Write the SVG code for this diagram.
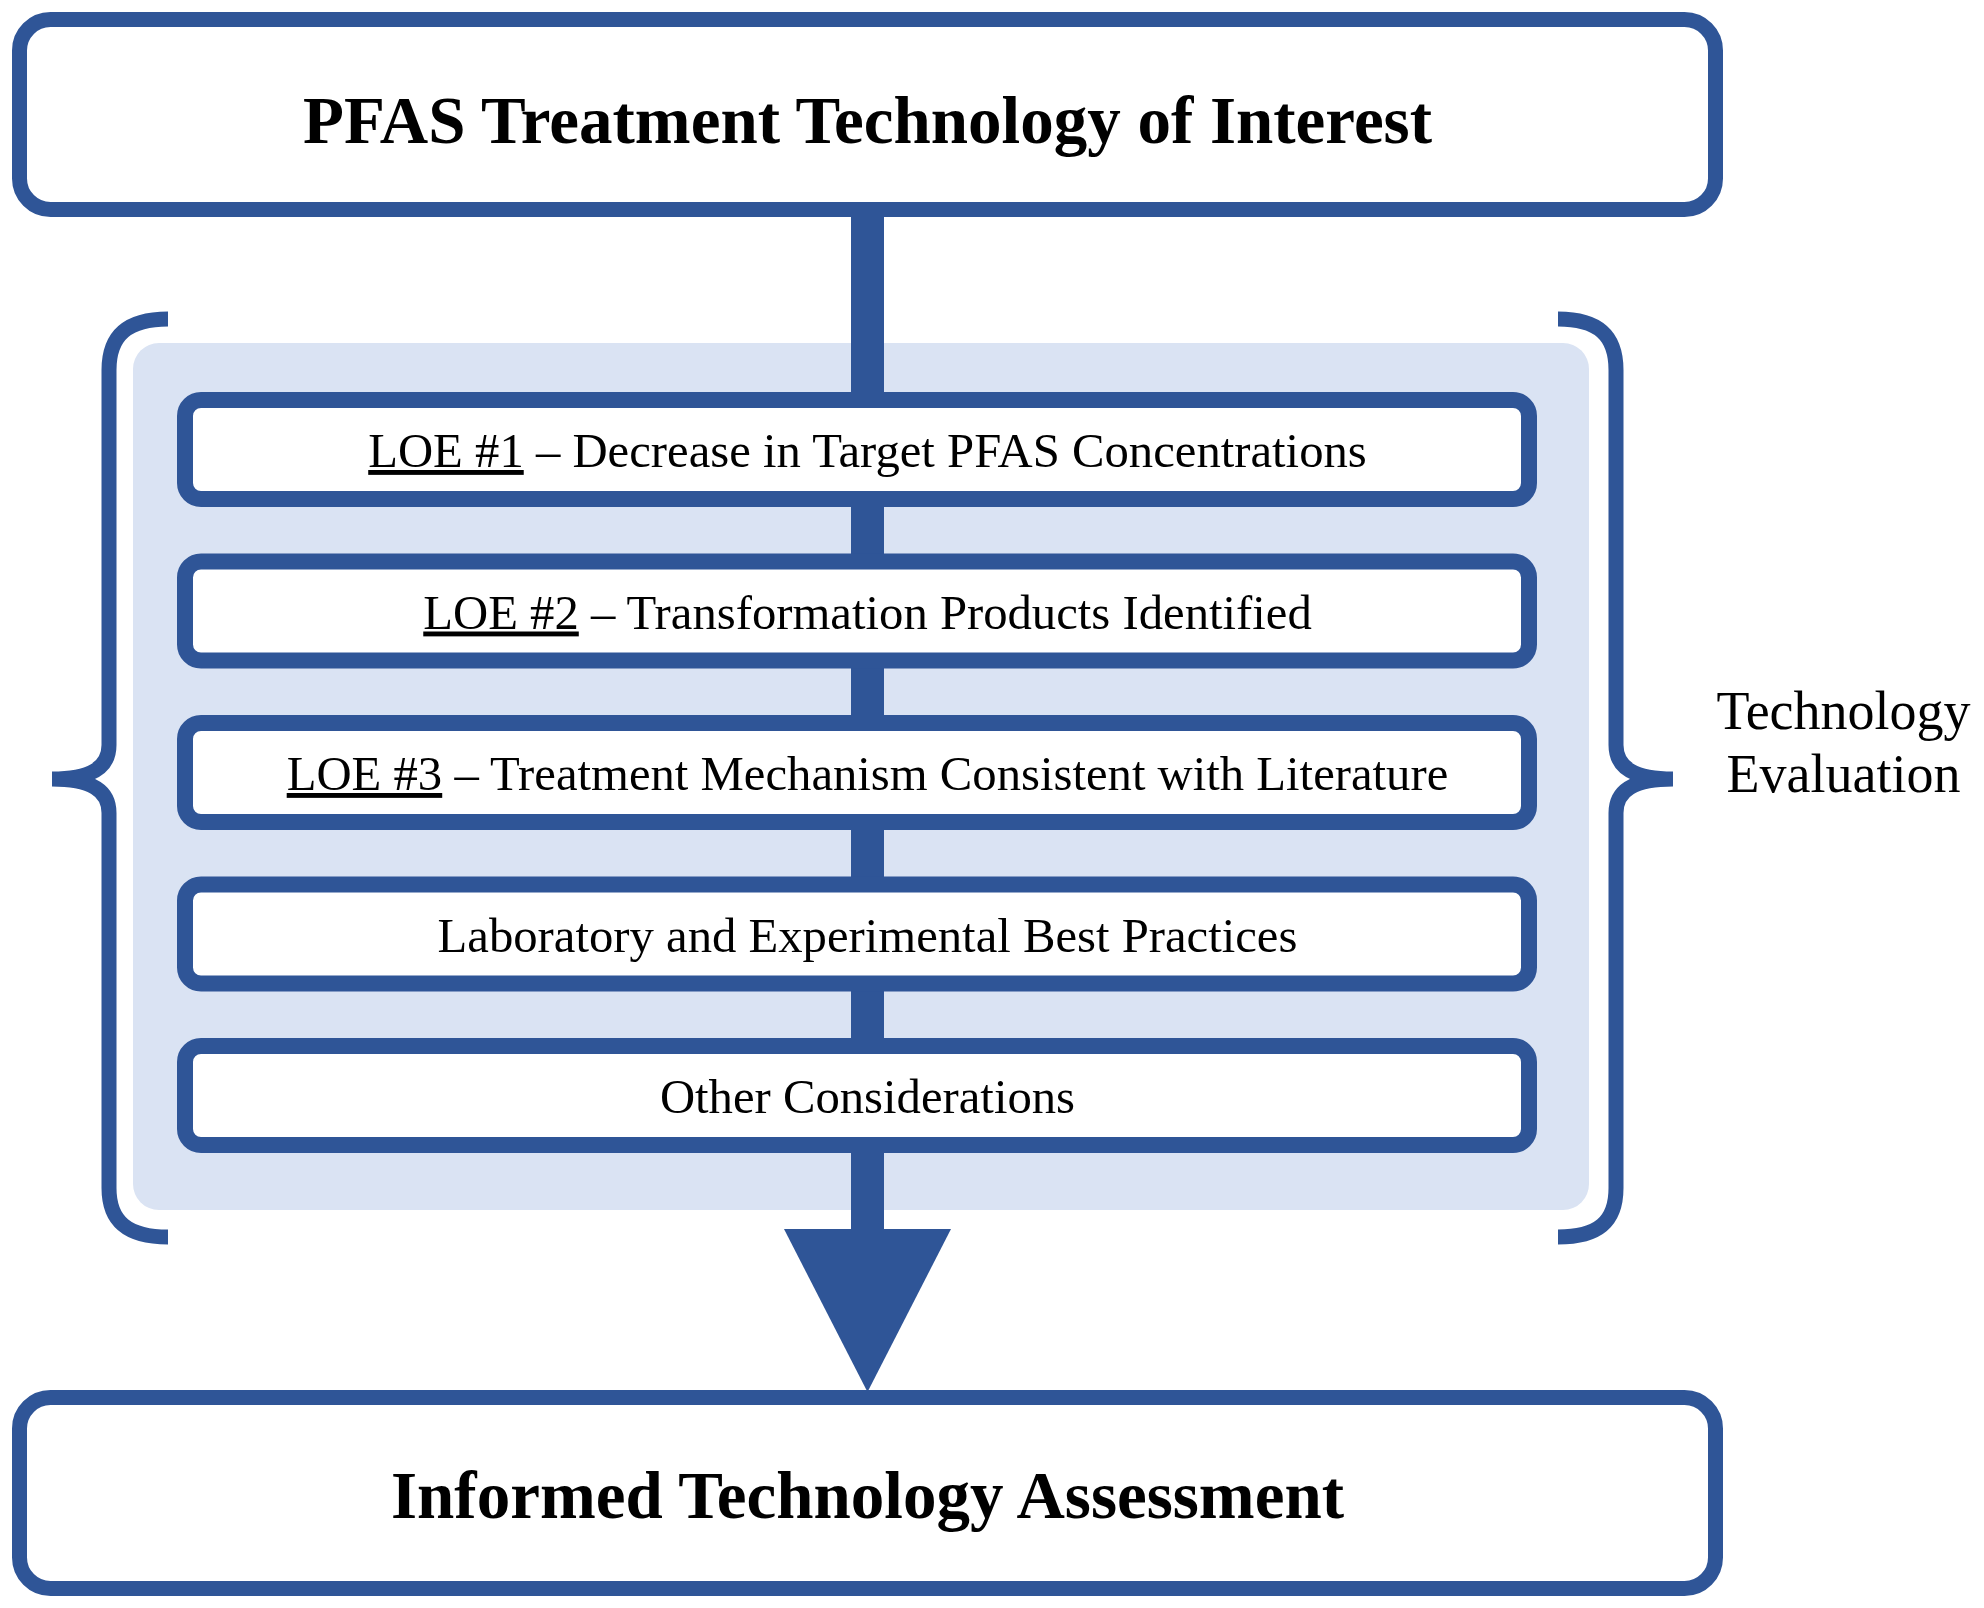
<svg xmlns="http://www.w3.org/2000/svg" width="1984" height="1608" viewBox="0 0 1984 1608">
<style>
.box{fill:#fff;stroke:#2F5597;stroke-width:15}
.loe{fill:#fff;stroke:#2F5597;stroke-width:16}
.brace{fill:none;stroke:#2F5597;stroke-width:15;stroke-linecap:butt}
.title{font-family:"Liberation Serif","Times New Roman",serif;font-weight:bold;font-size:67px;fill:#000;text-anchor:middle}
.lbl{font-family:"Liberation Serif","Times New Roman",serif;font-size:48.7px;fill:#000;text-anchor:middle}
.side{font-family:"Liberation Serif","Times New Roman",serif;font-size:54px;fill:#000;text-anchor:middle}
.u{text-decoration:underline}
</style>
<rect width="1984" height="1608" fill="#fff"/>
<g id="panel">
<rect x="133" y="343" width="1456" height="867" rx="26" fill="#DAE3F3"/>
</g>
<g id="connectors">
<rect x="851" y="210" width="33" height="1022" fill="#2F5597"/>
<polygon points="784,1229 951,1229 867.5,1392" fill="#2F5597"/>
</g>
<g id="top">
<rect class="box" x="19.5" y="19.5" width="1696" height="190" rx="31"/>
<text class="title" x="867.5" y="143">PFAS Treatment Technology of Interest</text>
</g>
<g id="loe1">
<rect class="loe" x="185" y="400" width="1344" height="99" rx="16"/>
<text class="lbl" x="867.5" y="467"><tspan class="u">LOE #1</tspan> – Decrease in Target PFAS Concentrations</text>
</g>
<g id="loe2">
<rect class="loe" x="185" y="561.5" width="1344" height="99" rx="16"/>
<text class="lbl" x="867.5" y="628.5"><tspan class="u">LOE #2</tspan> – Transformation Products Identified</text>
</g>
<g id="loe3">
<rect class="loe" x="185" y="723" width="1344" height="99" rx="16"/>
<text class="lbl" x="867.5" y="790"><tspan class="u">LOE #3</tspan> – Treatment Mechanism Consistent with Literature</text>
</g>
<g id="lab">
<rect class="loe" x="185" y="884.5" width="1344" height="99" rx="16"/>
<text class="lbl" x="867.5" y="951.5">Laboratory and Experimental Best Practices</text>
</g>
<g id="other">
<rect class="loe" x="185" y="1046" width="1344" height="99" rx="16"/>
<text class="lbl" x="867.5" y="1113">Other Considerations</text>
</g>
<g id="bottom">
<rect class="box" x="19.5" y="1397.5" width="1696" height="191" rx="31"/>
<text class="title" x="867.5" y="1518">Informed Technology Assessment</text>
</g>
<g id="braces">
<path class="brace" d="M168,319 C128,319 109,335 109,370 L109,745 C109,768 90,779 52,779 M52,779 C90,779 109,790 109,813 L109,1188 C109,1222 128,1237 168,1237"/>
<path class="brace" d="M1558,319 C1598,319 1616,335 1616,370 L1616,745 C1616,768 1635,779 1673,779 M1673,779 C1635,779 1616,790 1616,813 L1616,1188 C1616,1222 1598,1237 1558,1237"/>
</g>
<g id="label">
<text class="side" x="1843.5" y="729">Technology</text>
<text class="side" x="1843.5" y="792">Evaluation</text>
</g>
</svg>
